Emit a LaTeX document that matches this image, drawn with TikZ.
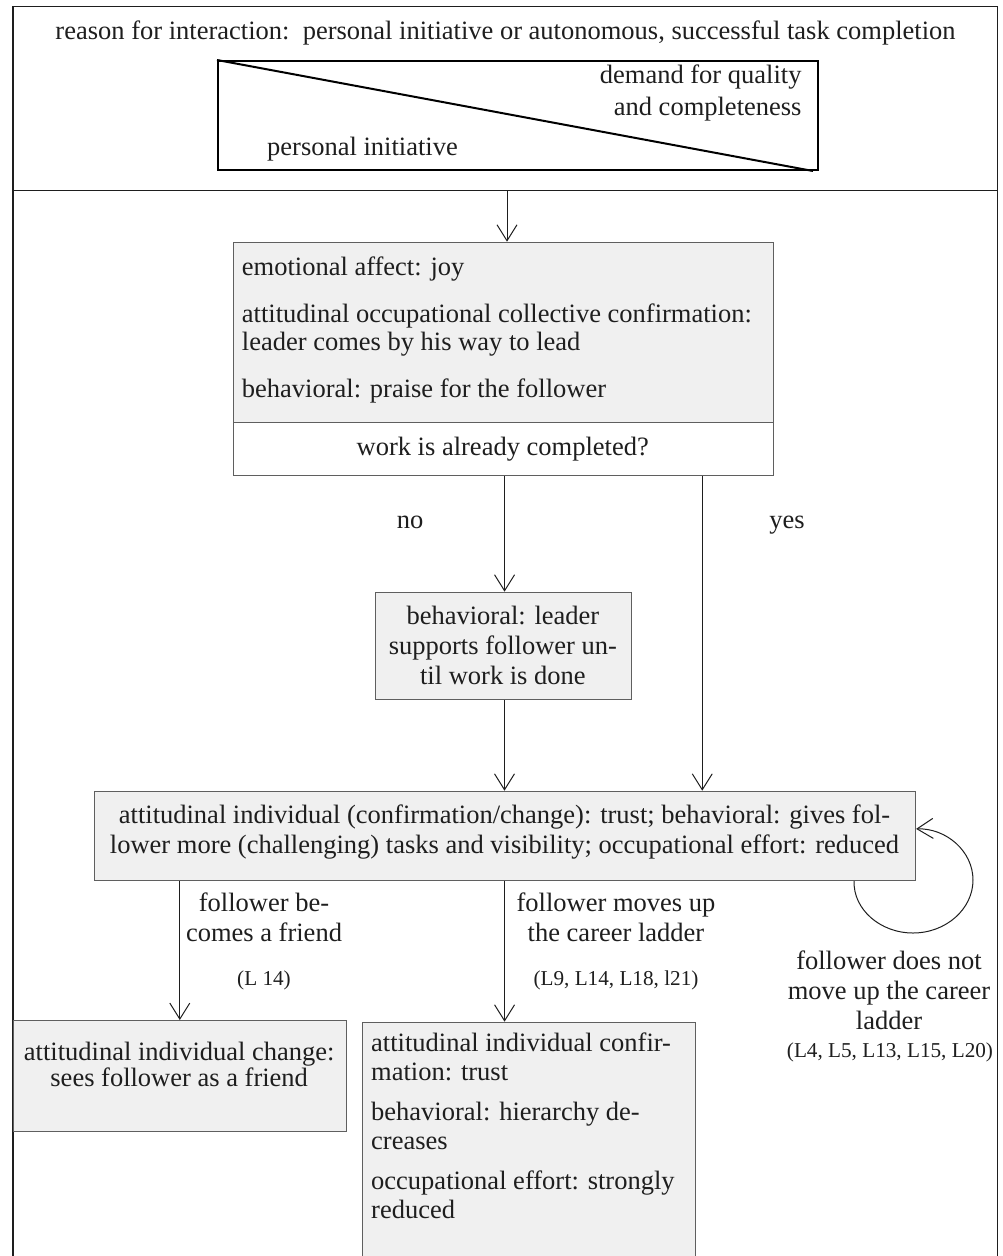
\documentclass[tikz,border=0pt]{standalone}
\usepackage{fontspec}
\setmainfont{Liberation Serif}
\usetikzlibrary{arrows.meta}
\definecolor{panelfill}{RGB}{240,240,240}
\definecolor{panelline}{RGB}{95,95,95}
\definecolor{ink}{RGB}{30,30,30}
% invisible rule fixing the height of a first line, so that a block hung
% from its north anchor has its first baseline 22pt below that anchor
\newcommand\headrule{\rule{0pt}{22pt}}
\lineskiplimit=-30pt
\begin{document}
\begin{tikzpicture}[x=1pt,y=-1pt,
  every node/.style={inner sep=0pt, text=ink},
  body/.style={font=\fontsize{26.5}{28.3}\selectfont},
  bodywide/.style={font=\fontsize{26.5}{30}\selectfont},
  bodybox/.style={font=\fontsize{26.5}{29}\selectfont},
  bodyloose/.style={font=\fontsize{26.5}{32}\selectfont},
  bodytight/.style={font=\fontsize{26.5}{25.5}\selectfont},
  small/.style={font=\fontsize{21.2}{24}\selectfont},
  panel/.style={draw=panelline, fill=panelfill, line width=1.1pt, anchor=north west},
  arr/.style={draw=ink, line width=1pt, -{Straight Barb[length=16pt,width=20pt]}},
  frame/.style={draw=ink, line width=1.2pt}]
\clip (0,0) rectangle (1003,1256);

% outer frame, open at the foot of the page, and the band under the heading
\draw[frame] (13,1270) -- (13,6.7) -- (997.7,6.7) -- (997.7,1270);
\draw[frame] (13,190.7) -- (997.7,190.7);
\coordinate (entry) at (507,190.7);

% heading and the divided rectangle
\node[body, anchor=base] (title) at (505.5,39)
  {reason for interaction:\ \ personal initiative or autonomous, successful task completion};
\node[draw=black, line width=2pt, minimum width=600pt, minimum height=109pt,
      anchor=north west] (tri) at (217,60) {};
\draw[black, line width=2pt] (tri.north west) -- ([xshift=-6pt]tri.south east);
\node[bodyloose, anchor=north east, align=right] (demand) at (801.7,61)
  {\headrule demand for quality\\and completeness};
\node[body, anchor=base west] (initiative) at (267,155) {personal initiative};

% first reaction and the question below it
\node[panel, minimum width=540pt, minimum height=180.6pt] (joy) at (232.7,241.7) {};
\node[panel, fill=white, minimum width=540pt, minimum height=52.7pt] (done) at (232.7,422.3) {};
\node[body, anchor=north west, align=left] (joytext) at (241.7,253)
  {\headrule emotional affect: joy\\[18.7pt]
   attitudinal occupational collective confirmation:\\
   leader comes by his way to lead\\[18.7pt]
   behavioral: praise for the follower};
\node[body, anchor=base] (donetext) at (502.7,455) {work is already completed?};

% support until the work is done
\node[panel, minimum width=255.7pt, minimum height=107.3pt] (support) at (375,591.7) {};
\node[bodywide, anchor=north, align=center] (supporttext) at (502.9,602)
  {\headrule behavioral: leader\\supports follower un-\\til work is done};

% trust
\node[panel, minimum width=821pt, minimum height=89.3pt] (trust) at (94,790.7) {};
\node[bodywide, anchor=north, align=center] (trusttext) at (504.5,801)
  {\headrule attitudinal individual (confirmation/change): trust; behavioral: gives fol-\\
   lower more (challenging) tasks and visibility; occupational effort: reduced};

% outcomes
\node[panel, minimum width=332.5pt, minimum height=110.7pt] (friend) at (13,1020) {};
\node[bodytight, anchor=north, align=center] (friendtext) at (179.2,1038.5)
  {\headrule attitudinal individual change:\\sees follower as a friend};
\node[panel, minimum width=332.5pt, minimum height=260pt] (career) at (362,1021.7) {};
\node[bodybox, anchor=north west, align=left] (careertext) at (371,1029)
  {\headrule attitudinal individual confir-\\mation: trust\\[11pt]
   behavioral: hierarchy de-\\creases\\[11pt]
   occupational effort: strongly\\reduced};

% connectors
\draw[arr] (entry) -- (entry |- joy.north);
\draw[arr] ([xshift=1.3pt]done.south) -- ([xshift=1.3pt]done.south |- support.north);
\draw[arr] ([xshift=199pt]done.south) -- ([xshift=199pt]done.south |- trust.north);
\draw[arr] ([xshift=1.1pt]support.south) -- ([xshift=1.1pt]support.south |- trust.north);
\draw[arr] (trust.south -| friend.north) -- (friend.north);
\draw[arr] ([xshift=-0.5pt]trust.south) -- ([xshift=-0.5pt]trust.south |- career.north);
\draw[arr] ([xshift=-62pt]trust.south east)
  .. controls (853,909) and (880,933) .. (913,933)
  .. controls (946,933) and (973,909) .. (973,880)
  .. controls (973,851) and (946,828) .. ([yshift=7pt]trust.east);

% connector labels
\node[body, anchor=base] (nolabel) at (410,528) {no};
\node[body, anchor=base] (yeslabel) at (787,528) {yes};
\node[bodywide, anchor=north, align=center] (friendlabel) at (264,889.7)
  {\headrule follower be-\\comes a friend};
\node[small, anchor=base] (friendref) at (264,985) {(L 14)};
\node[bodywide, anchor=north, align=center] (careerlabel) at (616,889.7)
  {\headrule follower moves up\\the career ladder};
\node[small, anchor=base] (careerref) at (616,985) {(L9, L14, L18, l21)};
\node[bodywide, anchor=north, align=center] (looplabel) at (889,947)
  {\headrule follower does not\\move up the career\\ladder};
\node[small, anchor=base] (loopref) at (890,1057) {(L4, L5, L13, L15, L20)};
\end{tikzpicture}
\end{document}
